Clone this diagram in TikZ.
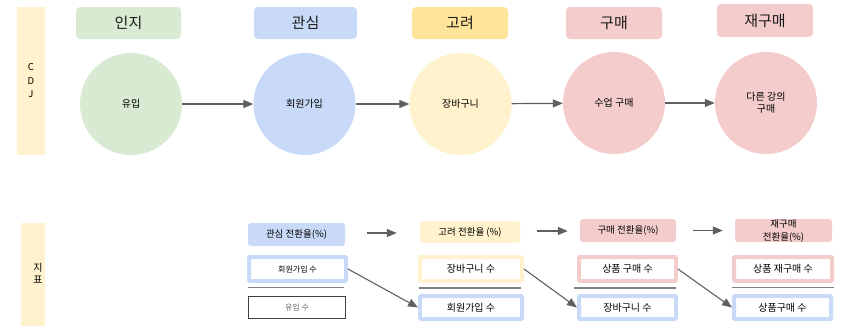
\documentclass[tikz,border=0pt]{standalone}
\usepackage{fontspec}
\setmainfont{Noto Sans CJK KR}
\usetikzlibrary{arrows.meta}
\definecolor{cgreen}{HTML}{D9EAD3}
\definecolor{cblue}{HTML}{C9DAF8}
\definecolor{cyellow}{HTML}{FFF2CC}
\definecolor{cgold}{HTML}{FFE599}
\definecolor{cpink}{HTML}{F4CCCC}
\definecolor{cgray}{HTML}{5F5F5F}
\definecolor{sgray}{HTML}{808080}
\definecolor{bgray}{HTML}{404040}
\begin{document}
\begin{tikzpicture}[x=1pt,y=-1pt,
  hdr/.style={rounded corners=4pt, minimum height=32pt, inner sep=0pt, font=\fontsize{15}{18}\selectfont, text=black!90},
  stage/.style={circle, minimum size=102pt, inner sep=0pt, font=\fontsize{10}{12}\selectfont, align=center},
  flow/.style={draw=cgray, line width=1.2pt, -{Triangle[length=10pt,width=8pt]}},
  rate/.style={rounded corners=3pt, minimum height=23pt, inner sep=0pt, font=\fontsize{9.5}{13}\selectfont, align=center},
  cnt/.style={line width=4pt, fill=white, rounded corners=1pt, minimum height=24pt, inner sep=0pt, font=\fontsize{10}{12}\selectfont},
  sepline/.style={draw=sgray, line width=1.5pt},
  band/.style={fill=cyellow, inner sep=0pt}
]
\useasboundingbox (0,0) rectangle (844,330);

% side bands
\node[band, minimum width=28pt, minimum height=148pt, align=center,
      font=\fontsize{9.5}{13.5}\selectfont] (cdj) at (31,81) {C\\D\\J};
\node[band, minimum width=24pt, minimum height=103pt] (kpiband) at (33,274.5) {};
\node[inner sep=0pt, align=center, font=\fontsize{10}{11.5}\selectfont] (kpi) at (38,273.5) {지\\표};

% stage headers
\node[hdr, fill=cgreen, minimum width=105pt] (h1) at (128.5,23) {인지};
\node[hdr, fill=cblue, minimum width=103pt] (h2) at (305.5,23) {관심};
\node[hdr, fill=cgold, minimum width=96pt] (h3) at (460,23) {고려};
\node[hdr, fill=cpink, minimum width=96pt] (h4) at (614,23) {구매};
\node[hdr, fill=cpink, minimum width=96pt, minimum height=33pt] (h5) at (765,20.5) {재구매};

% stage circles
\node[stage, fill=cgreen] (c1) at (131,104) {유입};
\node[stage, fill=cblue] (c2) at (304.5,104) {회원가입};
\node[stage, fill=cyellow] (c3) at (460.5,104) {장바구니};
\node[stage, fill=cpink] (c4) at (614,103) {수업 구매};
\node[stage, fill=cpink] (c5) at (766,103) {다른 강의\\구매};

\draw[flow] (c1) -- (c2);
\draw[flow] (c2) -- (c3);
\draw[flow] (c3) -- (c4);
\draw[flow] (c4) -- (c5);

% rate boxes
\node[rate, fill=cblue, minimum width=97pt] (r1) at (296.5,234.5) {관심 전환율(\%)};
\node[rate, fill=cyellow, minimum width=100pt, minimum height=22pt] (r2) at (470,232) {고려 전환율 (\%)};
\node[rate, fill=cpink, minimum width=96pt] (r3) at (628,230.5) {구매 전환율(\%)};
\node[rate, fill=cpink, minimum width=97pt] (r4) at (783.5,230.5) {재구매\\전환율(\%)};

\draw[flow, shorten <=22pt, shorten >=23pt] ([yshift=1.5pt]r1.east) -- ([yshift=1.5pt]r1.east -| r2.west);
\draw[flow, shorten <=17pt, shorten >=12pt] ([yshift=1pt]r2.east) -- ([yshift=1pt]r2.east -| r3.west);
\draw[flow, shorten <=17pt, shorten >=12pt] (r3.east) -- (r4.west);

% numerator boxes
\node[cnt, draw=cblue, minimum width=97pt, font=\fontsize{8}{10}\selectfont] (n1) at (297.5,269) {회원가입 수};
\node[cnt, draw=cyellow, minimum width=102pt] (n2) at (471,269) {장바구니 수};
\node[cnt, draw=cpink, minimum width=97pt] (n3) at (627.5,269) {상품 구매 수};
\node[cnt, draw=cpink, minimum width=98pt] (n4) at (783,269) {상품 재구매 수};

% separators
\draw[sepline] (248,287.5) -- (344,287.5);
\draw[sepline] (419,288) -- (521,288);
\draw[sepline] (574,288) -- (676,288);
\draw[sepline] (732,287.5) -- (834,287.5);

% denominator boxes
\node[draw=bgray, line width=1pt, fill=white, minimum width=97pt, minimum height=22pt, inner sep=0pt,
      font=\fontsize{8}{10}\selectfont, text=black!60] (d1) at (297,307.5) {유입 수};
\node[cnt, draw=cblue, minimum width=102pt, minimum height=23pt] (d2) at (471,307.5) {회원가입 수};
\node[cnt, draw=cblue, minimum width=97pt, minimum height=23pt] (d3) at (627.5,307.5) {장바구니 수};
\node[cnt, draw=cblue, minimum width=97pt, minimum height=23pt] (d4) at (782.5,307.5) {상품구매 수};

\draw[flow, line width=1.1pt] (n1.east) -- (d2.west);
\draw[flow, line width=1.1pt] (n2.east) -- (d3.west);
\draw[flow, line width=1.1pt] (n3.east) -- (d4.west);
\end{tikzpicture}
\end{document}
